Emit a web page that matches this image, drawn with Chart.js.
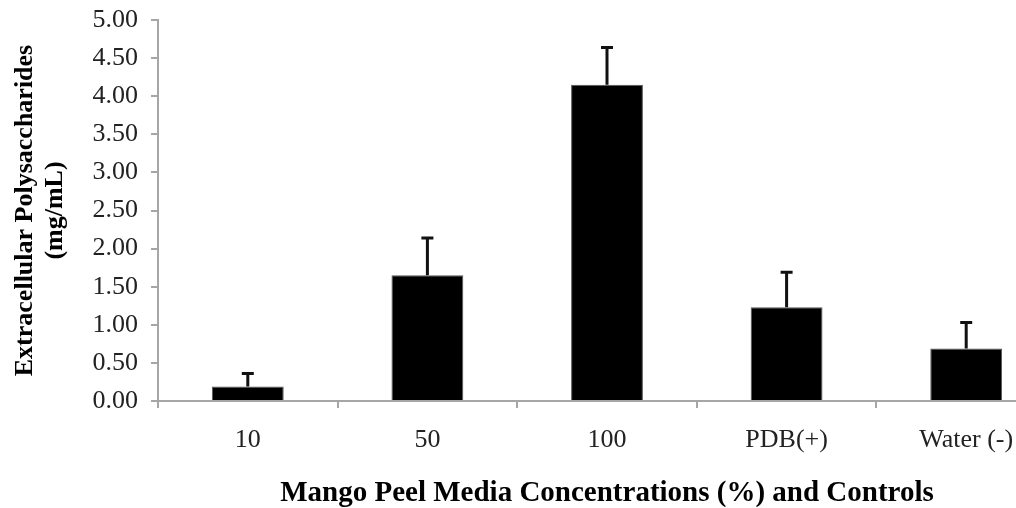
<!DOCTYPE html>
<html>
<head>
<meta charset="utf-8">
<script src="https://cdn.jsdelivr.net/npm/chart.js@4.4.1/dist/chart.umd.min.js"></script>
<style>
  html, body { margin: 0; padding: 0; background: #fff; overflow: hidden; }
  #wrap { position: absolute; left: 0; top: 0; width: 1016px; height: 508px; overflow: hidden; }
</style>
</head>
<body>
<div id="wrap">
  <canvas id="epsChart" width="1056" height="520"></canvas>
</div>
<script>
// values
const categories = ["10", "50", "100", "PDB(+)", "Water (-)"];
const epsMeans = [0.19, 1.65, 4.15, 1.23, 0.69];
const epsErrors = [0.17, 0.49, 0.49, 0.46, 0.34];
const yTicks = [0, 0.5, 1, 1.5, 2, 2.5, 3, 3.5, 4, 4.5, 5];

const axisGrey = "#a6a6a6";
const serif = "'Liberation Serif', 'Times New Roman', serif";

// upper error bars only, like the original
const errorBars = {
  id: "errorBars",
  afterDatasetsDraw(chart) {
    const ctx = chart.ctx;
    const yScale = chart.scales.y;
    const meta = chart.getDatasetMeta(0);
    ctx.save();
    ctx.strokeStyle = "#111";
    ctx.lineWidth = 3;
    meta.data.forEach((bar, i) => {
      const top = yScale.getPixelForValue(epsMeans[i] + epsErrors[i]);
      const base = yScale.getPixelForValue(epsMeans[i]);
      ctx.beginPath();
      ctx.moveTo(bar.x, base);
      ctx.lineTo(bar.x, top);
      ctx.moveTo(bar.x - 6, top);
      ctx.lineTo(bar.x + 6, top);
      ctx.stroke();
    });
    ctx.restore();
  }
};

new Chart(document.getElementById("epsChart"), {
  type: "bar",
  data: {
    labels: categories,
    datasets: [{
      data: epsMeans,
      backgroundColor: "#000",
      borderColor: "#555",
      borderWidth: 1,
      barPercentage: 0.4,
      categoryPercentage: 1
    }]
  },
  options: {
    responsive: false,
    animation: false,
    layout: { padding: { top: 20, right: 0, left: 0, bottom: 0 } },
    plugins: {
      legend: { display: false },
      tooltip: { enabled: false }
    },
    scales: {
      x: {
        grid: { offset: true, drawOnChartArea: false, drawTicks: true, tickLength: 7, color: axisGrey, lineWidth: 2 },
        border: { color: axisGrey, width: 2 },
        ticks: { color: "#222", font: { family: serif, size: 26 }, padding: 17, maxRotation: 0 },
        title: {
          display: true,
          text: "Mango Peel Media Concentrations (%) and Controls",
          color: "#000",
          font: { family: serif, size: 29, weight: "bold" },
          padding: { top: 10, bottom: 9 }
        },
        afterFit: s => { s.height = 119; s.paddingLeft = 0; s.paddingRight = 0; }
      },
      y: {
        min: 0,
        max: 5,
        afterBuildTicks: s => { s.ticks = yTicks.map(v => ({ value: v })); },
        grid: { drawOnChartArea: false, drawTicks: true, tickLength: 7, color: axisGrey, lineWidth: 2 },
        border: { color: axisGrey, width: 2 },
        ticks: {
          color: "#222",
          font: { family: serif, size: 26 },
          padding: 13,
          callback: v => Number(v).toFixed(2)
        },
        title: {
          display: true,
          text: ["Extracellular Polysaccharides", "(mg/mL)"],
          color: "#000",
          font: { family: serif, size: 26, weight: "bold", lineHeight: 1.15 },
          padding: { top: 10, bottom: 0 }
        },
        afterFit: s => { s.width = 158; s.paddingTop = 0; s.paddingBottom = 0; }
      }
    }
  },
  plugins: [errorBars]
});
</script>
</body>
</html>
